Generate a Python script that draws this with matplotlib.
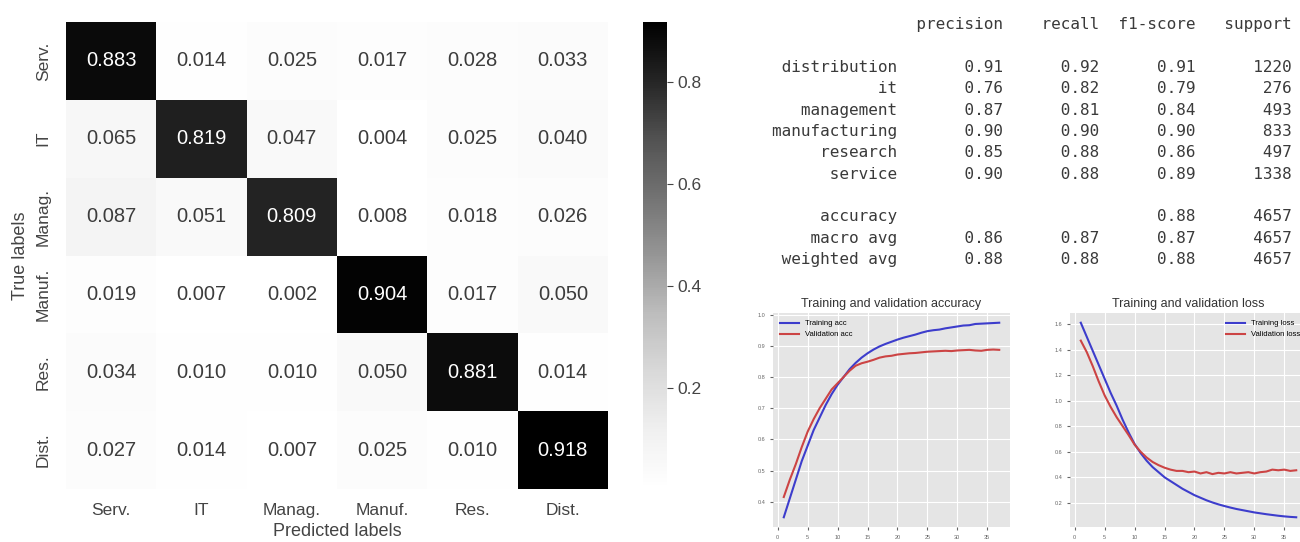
import numpy as np
import matplotlib.pyplot as plt
import seaborn as sns

plt.rcParams['font.family'] = ['Liberation Sans', 'DejaVu Sans']

# confusion matrix (normalised by row)
classes = ["Serv.", "IT", "Manag.", "Manuf.", "Res.", "Dist."]
row_serv = [0.883, 0.014, 0.025, 0.017, 0.028, 0.033]
row_it = [0.065, 0.819, 0.047, 0.004, 0.025, 0.040]
row_manag = [0.087, 0.051, 0.809, 0.008, 0.018, 0.026]
row_manuf = [0.019, 0.007, 0.002, 0.904, 0.017, 0.050]
row_res = [0.034, 0.010, 0.010, 0.050, 0.881, 0.014]
row_dist = [0.027, 0.014, 0.007, 0.025, 0.010, 0.918]

# classification report
report_labels = ["distribution", "it", "management", "manufacturing", "research", "service"]
precision = [0.91, 0.76, 0.87, 0.90, 0.85, 0.90]
recall = [0.92, 0.82, 0.81, 0.90, 0.88, 0.88]
f1_score = [0.91, 0.79, 0.84, 0.90, 0.86, 0.89]
support = [1220, 276, 493, 833, 497, 1338]
accuracy = 0.88
macro_avg = [0.86, 0.87, 0.87]
weighted_avg = [0.88, 0.88, 0.88]
total_support = 4657

# training history
epochs = list(range(1, 38))
train_acc = [0.350, 0.410, 0.470, 0.530, 0.580, 0.630, 0.670, 0.710, 0.745, 0.775,
             0.800, 0.825, 0.845, 0.862, 0.876, 0.888, 0.898, 0.906, 0.913, 0.920,
             0.926, 0.931, 0.936, 0.942, 0.947, 0.950, 0.952, 0.956, 0.959, 0.962,
             0.965, 0.966, 0.970, 0.971, 0.972, 0.973, 0.974]
val_acc = [0.415, 0.470, 0.520, 0.575, 0.625, 0.665, 0.700, 0.730, 0.760, 0.780,
           0.800, 0.820, 0.836, 0.844, 0.849, 0.855, 0.862, 0.866, 0.868, 0.872,
           0.874, 0.876, 0.877, 0.879, 0.881, 0.882, 0.883, 0.884, 0.883, 0.885,
           0.886, 0.887, 0.885, 0.884, 0.887, 0.888, 0.887]
train_loss = [1.61, 1.50, 1.39, 1.28, 1.17, 1.06, 0.96, 0.85, 0.75, 0.66,
              0.59, 0.53, 0.48, 0.44, 0.40, 0.37, 0.34, 0.31, 0.285, 0.26,
              0.24, 0.22, 0.203, 0.188, 0.175, 0.163, 0.152, 0.143, 0.134, 0.125,
              0.118, 0.111, 0.105, 0.099, 0.094, 0.090, 0.087]
val_loss = [1.47, 1.38, 1.27, 1.15, 1.04, 0.95, 0.87, 0.80, 0.73, 0.655,
            0.60, 0.555, 0.52, 0.495, 0.475, 0.46, 0.45, 0.45, 0.44, 0.445,
            0.43, 0.44, 0.425, 0.435, 0.43, 0.44, 0.43, 0.435, 0.44, 0.43,
            0.44, 0.445, 0.46, 0.455, 0.46, 0.45, 0.455]

cm = np.array([row_serv, row_it, row_manag, row_manuf, row_res, row_dist])

W, H = 1300, 542
fig = plt.figure(figsize=(13, 5.42), dpi=100)

# heatmap
ax = fig.add_axes([66 / W, 1 - 489 / H, 542 / W, 467 / H])
cax = fig.add_axes([643 / W, 1 - 489 / H, 24 / W, 467 / H])
sns.heatmap(cm, annot=True, fmt=".3f", cmap="Greys", ax=ax, cbar_ax=cax,
            xticklabels=classes, yticklabels=classes,
            annot_kws={"size": 14.5})
for t in ax.texts:
    if float(t.get_text()) < 0.5:
        t.set_color("#3c3c3c")
ax.tick_params(axis="x", length=0, labelsize=12.5, colors="#444444", pad=10)
ax.tick_params(axis="y", length=0, labelsize=12.5, colors="#444444", pad=11)
plt.setp(ax.get_yticklabels(), rotation=90, va="center")
ax.set_xlabel("Predicted labels", fontsize=13, color="#444444")
ax.set_ylabel("True labels", fontsize=13, color="#444444")
ax.xaxis.set_label_coords(0.5, -0.073)
ax.yaxis.set_label_coords(-0.068, 0.5)
cax.set_yticks([0.2, 0.4, 0.6, 0.8])
cax.tick_params(labelsize=12.5, colors="#444444", length=4)

# classification report as monospace text
width = max(len(l) for l in report_labels)
lines = ["{:>{w}s} ".format("", w=width) +
         "".join(" {:>9}".format(h) for h in ["precision", "recall", "f1-score", "support"])]
lines.append("")
for lab, p, r, f, s in zip(report_labels, precision, recall, f1_score, support):
    lines.append("{:>{w}s} ".format(lab, w=width) + " {:>9.2f} {:>9.2f} {:>9.2f} {:>9}".format(p, r, f, s))
lines.append("")
lines.append("{:>{w}s} ".format("accuracy", w=width) + " {:>9} {:>9}".format("", "") +
             " {:>9.2f} {:>9}".format(accuracy, total_support))
lines.append("{:>{w}s} ".format("macro avg", w=width) +
             " {:>9.2f} {:>9.2f} {:>9.2f} {:>9}".format(*macro_avg, total_support))
lines.append("{:>{w}s} ".format("weighted avg", w=width) +
             " {:>9.2f} {:>9.2f} {:>9.2f} {:>9}".format(*weighted_avg, total_support))
for i, line in enumerate(lines):
    fig.text(772 / W, 1 - (25 + i * 21.3) / H, line, family="DejaVu Sans Mono",
             fontsize=11.5, color="#3a3a3a", ha="left", va="center")


def style_small(a, title):
    a.set_facecolor("#E5E5E5")
    a.grid(True, color="white", lw=0.8)
    a.set_axisbelow(True)
    for sp in a.spines.values():
        sp.set_visible(False)
    a.tick_params(labelsize=4, colors="#666666", length=2)
    a.set_xticks([0, 5, 10, 15, 20, 25, 30, 35])
    a.set_title(title, fontsize=9, color="#333333", pad=4)


ax_acc = fig.add_axes([773 / W, 1 - 527 / H, 237 / W, 214 / H])
ax_acc.plot(epochs, train_acc, color="#3d3dcc", lw=1.5, label="Training acc")
ax_acc.plot(epochs, val_acc, color="#cc4444", lw=1.5, label="Validation acc")
style_small(ax_acc, "Training and validation accuracy")
ax_acc.set_yticks([0.4, 0.5, 0.6, 0.7, 0.8, 0.9, 1.0])
ax_acc.legend(loc="upper left", fontsize=5.5, frameon=False, handlelength=2.5)

ax_loss = fig.add_axes([1070 / W, 1 - 527 / H, 237 / W, 214 / H])
ax_loss.plot(epochs, train_loss, color="#3d3dcc", lw=1.5, label="Training loss")
ax_loss.plot(epochs, val_loss, color="#cc4444", lw=1.5, label="Validation loss")
style_small(ax_loss, "Training and validation loss")
ax_loss.set_yticks([0.2, 0.4, 0.6, 0.8, 1.0, 1.2, 1.4, 1.6])
ax_loss.legend(loc="upper right", fontsize=5.5, frameon=False, handlelength=2.5)

fig.savefig("out.png", dpi=100)
